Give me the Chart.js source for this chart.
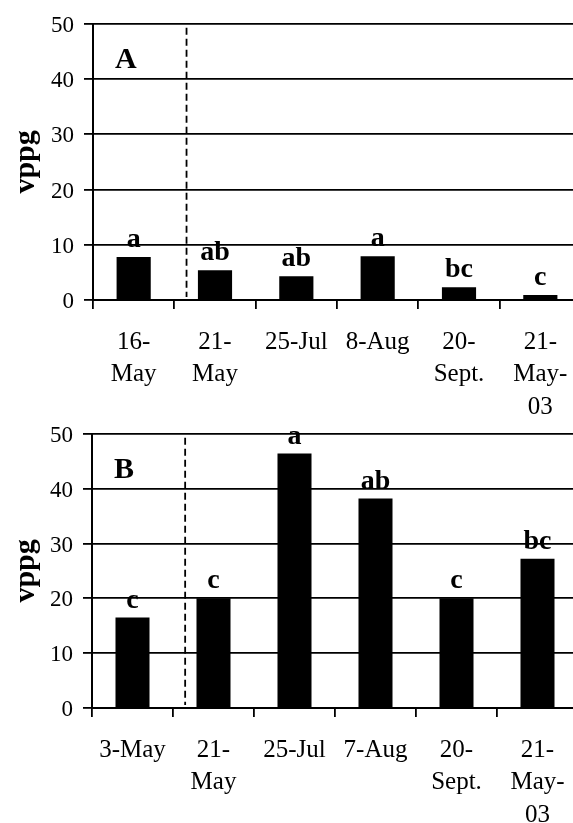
<!DOCTYPE html>
<html>
<head>
<meta charset="utf-8">
<script src="https://cdn.jsdelivr.net/npm/chart.js@4.4.0/dist/chart.umd.min.js"></script>
<style>
  html, body { margin: 0; padding: 0; background: #fff; overflow: hidden; width: 573px; height: 823px; }
  canvas { position: absolute; left: 0; }
  #graficoA { top: 0; }
  #graficoB { top: 410px; }
</style>
</head>
<body>
<canvas id="graficoA" width="590" height="420"></canvas>
<canvas id="graficoB" width="590" height="413"></canvas>
<script>
// dados
const datasA = [["16-", "May"], ["21-", "May"], "25-Jul", "8-Aug", ["20-", "Sept."], ["21-", "May-", "03"]];
const valoresA = [7.8, 5.4, 4.3, 7.9, 2.3, 0.9];
const letrasA = ["a", "ab", "ab", "a", "bc", "c"];

const datasB = ["3-May", ["21-", "May"], "25-Jul", "7-Aug", ["20-", "Sept."], ["21-", "May-", "03"]];
const valoresB = [16.5, 20, 46.4, 38.2, 20, 27.2];
const letrasB = ["c", "c", "a", "ab", "c", "bc"];

const eixoY = { min: 0, max: 50, passo: 10 };
const fonte = "'Liberation Serif', 'Times New Roman', serif";

// letras de significancia (desenhadas antes das grades, como no original)
const pluginLetras = {
  id: "letras",
  beforeDraw(chart, args, opts) {
    const ctx = chart.ctx;
    const barras = chart.getDatasetMeta(0).data;
    ctx.save();
    ctx.fillStyle = "#000";
    ctx.font = "bold 28px " + fonte;
    ctx.textAlign = "center";
    ctx.textBaseline = "alphabetic";
    opts.letras.forEach((l, i) => {
      const b = barras[i];
      if (b) ctx.fillText(l, b.x, b.y - 10);
    });
    ctx.restore();
  }
};

// linha tracejada + letra do painel
const pluginExtras = {
  id: "extras",
  afterDatasetsDraw(chart, args, opts) {
    const ctx = chart.ctx;
    const x = chart.scales.x;
    const area = chart.chartArea;
    const c0 = x.getPixelForValue(0);
    const c1 = x.getPixelForValue(1);
    const px = (c0 + c1) / 2 + 0.15 * (c1 - c0);
    ctx.save();
    ctx.strokeStyle = "#000";
    ctx.lineWidth = 1.8;
    ctx.setLineDash([7, 4]);
    ctx.beginPath();
    ctx.moveTo(px, area.top + 4);
    ctx.lineTo(px, area.bottom - 3);
    ctx.stroke();
    ctx.setLineDash([]);
    ctx.fillStyle = "#000";
    ctx.font = "bold 30px " + fonte;
    ctx.textAlign = "left";
    ctx.textBaseline = "alphabetic";
    ctx.fillText(opts.painel, area.left + 22, area.top + 44);
    ctx.restore();
  }
};

function criarGrafico(id, datas, valores, letras, painel, larguraY, alturaX, topo, direita) {
  return new Chart(document.getElementById(id), {
    type: "bar",
    data: {
      labels: datas,
      datasets: [{
        data: valores,
        backgroundColor: "#000",
        borderWidth: 0,
        barPercentage: 0.42,
        categoryPercentage: 1
      }]
    },
    plugins: [pluginLetras, pluginExtras],
    options: {
      responsive: false,
      animation: false,
      devicePixelRatio: 1,
      layout: { padding: { top: topo, right: direita, left: 0, bottom: 0 } },
      plugins: {
        legend: { display: false },
        tooltip: { enabled: false },
        letras: { letras: letras },
        extras: { painel: painel }
      },
      scales: {
        x: {
          offset: true,
          grid: {
            offset: true,
            drawOnChartArea: false,
            drawTicks: true,
            tickLength: 9,
            color: "#000",
            lineWidth: 1.8
          },
          border: { display: true, color: "#000", width: 2 },
          ticks: {
            color: "#000",
            font: { family: fonte, size: 25, lineHeight: 1.3 },
            padding: 17,
            maxRotation: 0,
            autoSkip: false
          },
          afterFit: s => { s.height = alturaX; }
        },
        y: {
          min: eixoY.min,
          max: eixoY.max,
          grid: {
            color: "#000",
            lineWidth: 1.8,
            drawTicks: true,
            tickLength: 9
          },
          border: { display: true, color: "#000", width: 2 },
          ticks: {
            stepSize: eixoY.passo,
            color: "#000",
            font: { family: fonte, size: 23 },
            padding: 10,
            labelOffset: 2
          },
          title: {
            display: true,
            text: "vppg",
            color: "#000",
            font: { family: fonte, size: 30, weight: "bold" },
            padding: { top: 8, bottom: 0 }
          },
          afterFit: s => { s.width = larguraY; }
        }
      }
    }
  });
}

criarGrafico("graficoA", datasA, valoresA, letrasA, "A", 93, 120, 21, 9);
criarGrafico("graficoB", datasB, valoresB, letrasB, "B", 92, 115, 22, 12);
</script>
</body>
</html>
